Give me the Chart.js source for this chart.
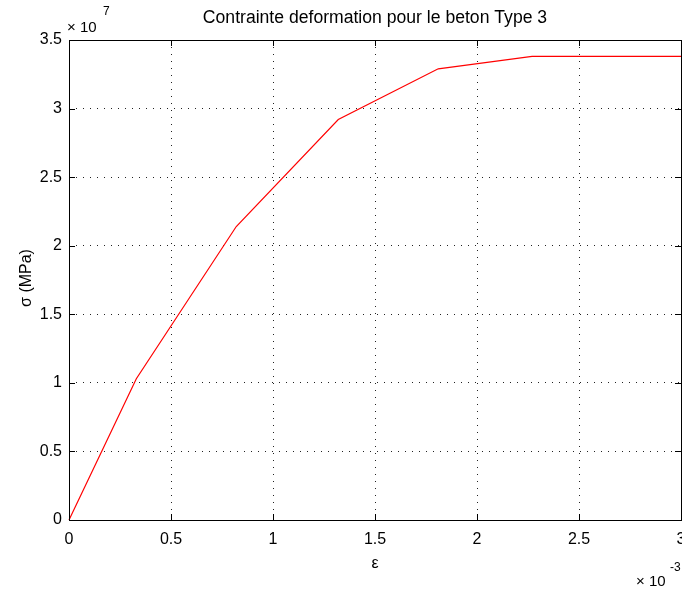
<!DOCTYPE html>
<html>
<head>
<meta charset="utf-8">
<script src="https://cdn.jsdelivr.net/npm/chart.js@4"></script>
<style>html,body{margin:0;padding:0;background:#fff}</style>
</head>
<body>
<canvas id="c" width="682" height="594" style="display:block"></canvas>
<script>
// strain in units of 1e-3, stress in units of 1e7
const strain = [0, 0.33, 0.82, 1.32, 1.81, 2.27, 3.0];
const stress = [0, 1.03, 2.14, 2.92, 3.29, 3.38, 3.38];
const xTicks = [0, 0.5, 1, 1.5, 2, 2.5, 3];
const yTicks = [0, 0.5, 1, 1.5, 2, 2.5, 3, 3.5];
const titleText = 'Contrainte deformation pour le beton Type 3';
const xLabel = 'ε';
const yLabel = 'σ (MPa)';
const xExp = '-3';
const yExp = '7';

const FONT = "'Liberation Sans', Arial, sans-serif";

const decor = {
    id: 'decor',
    afterDraw(chart) {
        const ctx = chart.ctx;
        const a = chart.chartArea;
        const xs = chart.scales.x, ys = chart.scales.y;
        ctx.save();
        ctx.strokeStyle = '#000';
        ctx.lineWidth = 1;
        // frame
        ctx.strokeRect(Math.round(a.left) + 0.5, Math.round(a.top) + 0.5,
            Math.round(a.right - a.left), Math.round(a.bottom - a.top));
        // inward ticks
        ctx.beginPath();
        xs.ticks.forEach(t => {
            const px = Math.round(xs.getPixelForValue(t.value)) + 0.5;
            ctx.moveTo(px, a.bottom); ctx.lineTo(px, a.bottom - 6);
            ctx.moveTo(px, a.top); ctx.lineTo(px, a.top + 6);
        });
        ys.ticks.forEach(t => {
            const py = Math.round(ys.getPixelForValue(t.value)) + 0.5;
            ctx.moveTo(a.left, py); ctx.lineTo(a.left + 6, py);
            ctx.moveTo(a.right, py); ctx.lineTo(a.right - 6, py);
        });
        ctx.stroke();

        ctx.fillStyle = '#000';
        // title
        ctx.font = '17.6px ' + FONT;
        ctx.textAlign = 'center';
        ctx.textBaseline = 'alphabetic';
        ctx.fillText(titleText, (a.left + a.right) / 2, 23);
        // x label
        ctx.font = '16px ' + FONT;
        ctx.fillText(xLabel, (a.left + a.right) / 2, 568);
        // y label
        ctx.save();
        ctx.translate(31, 278);
        ctx.rotate(-Math.PI / 2);
        ctx.fillText(yLabel, 0, 0);
        ctx.restore();
        // multipliers
        ctx.textAlign = 'left';
        ctx.font = '15px ' + FONT;
        ctx.fillText('× 10', 67, 32);
        ctx.fillText('× 10', 636, 586);
        ctx.font = '12px ' + FONT;
        ctx.fillText(yExp, 103, 15);
        ctx.fillText(xExp, 670, 571);
        ctx.restore();
    }
};

new Chart(document.getElementById('c').getContext('2d'), {
    type: 'scatter',
    data: {
        datasets: [{
            data: strain.map((s, i) => ({x: s, y: stress[i]})),
            showLine: true,
            borderColor: 'rgb(255, 0, 0)',
            borderWidth: 1.2,
            pointRadius: 0,
            tension: 0,
            clip: false
        }]
    },
    options: {
        responsive: false,
        animation: false,
        devicePixelRatio: 1,
        layout: {padding: {top: 40, right: 1, left: 0, bottom: 0}},
        plugins: {legend: {display: false}, tooltip: {enabled: false}, title: {display: false}},
        scales: {
            x: {
                type: 'linear', min: 0, max: 3,
                afterBuildTicks: s => { s.ticks = xTicks.map(v => ({value: v})); },
                grid: {color: '#222', lineWidth: 1, drawTicks: false},
                border: {display: false, dash: [1, 6]},
                ticks: {font: {family: FONT, size: 16}, color: '#000', padding: 10,
                    maxRotation: 0, autoSkip: false, callback: v => String(v)},
                afterFit: s => { s.height = 74; s.paddingLeft = 0; s.paddingRight = 0; }
            },
            y: {
                type: 'linear', min: 0, max: 3.5,
                afterBuildTicks: s => { s.ticks = yTicks.map(v => ({value: v})); },
                grid: {color: '#222', lineWidth: 1, drawTicks: false},
                border: {display: false, dash: [1, 6]},
                ticks: {font: {family: FONT, size: 16}, color: '#000', padding: 7,
                    autoSkip: false, callback: v => String(v)},
                afterFit: s => { s.width = 69; s.paddingTop = 0; s.paddingBottom = 0; }
            }
        }
    },
    plugins: [decor]
});
</script>
</body>
</html>
